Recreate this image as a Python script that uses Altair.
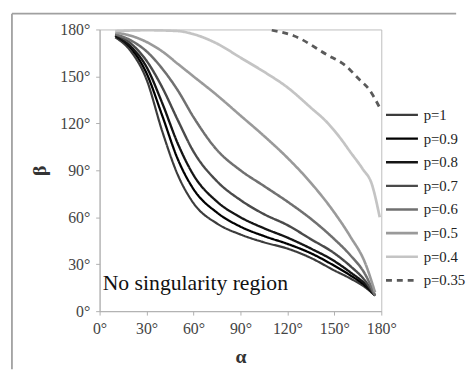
import altair as alt
import pandas as pd

# ---- data (alpha in degrees, beta in degrees) ----
alpha_main = [10, 20, 30, 40, 50, 60, 75, 90, 105, 120, 135, 150, 160, 170, 176]
beta_p1 = [175, 166, 148, 115, 87, 69, 56, 49, 44, 40, 34, 26, 21, 15, 10]
beta_p09 = [176, 168, 152, 125, 97, 78, 63, 54, 48, 43, 37, 29, 23, 16, 10]
beta_p08 = [176, 169, 156, 133, 107, 87, 70, 60, 53, 47, 40, 32, 25, 17, 10]
beta_p07 = [177, 171, 160, 143, 122, 102, 83, 71, 62, 55, 46, 37, 29, 19, 10]
beta_p06 = [177, 173, 166, 155, 141, 124, 103, 90, 80, 70, 59, 46, 36, 23, 10]
beta_p05 = [178, 176, 172, 166, 158, 150, 138, 125, 112, 98, 82, 63, 48, 30, 12]

alpha_p04 = [10, 30, 50, 60, 75, 90, 105, 120, 135, 145, 155, 160, 168, 174, 179]
beta_p04 = [179, 179.5, 179, 177, 171, 162, 153, 143, 130, 121, 109, 102, 91, 81, 60]

alpha_p035 = [110, 124, 145, 157, 166, 172, 179]
beta_p035 = [179.5, 176, 164, 157, 148, 142, 130]

labels = ["p=1", "p=0.9", "p=0.8", "p=0.7", "p=0.6", "p=0.5", "p=0.4", "p=0.35"]
colors = ["#3c3c3c", "#000000", "#151515", "#4a4a4a", "#707070", "#9a9a9a", "#c4c4c4", "#5a5a5a"]
dashes = [[1, 0]] * 7 + [[6, 5]]
widths = [2.2, 2.8, 2.2, 2.2, 2.2, 2.2, 2.2, 1.6]

series = [
    ("p=1", alpha_main, beta_p1),
    ("p=0.9", alpha_main, beta_p09),
    ("p=0.8", alpha_main, beta_p08),
    ("p=0.7", alpha_main, beta_p07),
    ("p=0.6", alpha_main, beta_p06),
    ("p=0.5", alpha_main, beta_p05),
    ("p=0.4", alpha_p04, beta_p04),
    ("p=0.35", alpha_p035, beta_p035),
]
rows = []
for name, xs, ys in series:
    for i, (a, b) in enumerate(zip(xs, ys)):
        rows.append({"p": name, "alpha": a, "beta": b, "order": i})
df = pd.DataFrame(rows)

note = pd.DataFrame({"alpha": [2], "beta": [18], "text": ["No singularity region"]})

serif = "Liberation Serif, Times New Roman, DejaVu Serif, serif"
ticks = [0, 30, 60, 90, 120, 150, 180]

x = alt.X("alpha:Q", scale=alt.Scale(domain=[0, 180], nice=False),
          axis=alt.Axis(values=ticks, labelExpr="datum.value + '°'", title="α"))
y = alt.Y("beta:Q", scale=alt.Scale(domain=[0, 180], nice=False),
          axis=alt.Axis(values=ticks, labelExpr="datum.value + '°'", title="β"))

lines = alt.Chart(df).mark_line(interpolate="monotone").encode(
    x=x,
    y=y,
    order="order:Q",
    color=alt.Color("p:N", scale=alt.Scale(domain=labels, range=colors),
                    sort=labels, legend=alt.Legend(title=None)),
    strokeDash=alt.StrokeDash("p:N", scale=alt.Scale(domain=labels, range=dashes),
                              sort=labels, legend=alt.Legend(title=None)),
    strokeWidth=alt.StrokeWidth("p:N", scale=alt.Scale(domain=labels, range=widths),
                                sort=labels, legend=alt.Legend(title=None)),
)

text = alt.Chart(note).mark_text(align="left", baseline="middle", font=serif,
                                 fontSize=22, color="#111").encode(
    x="alpha:Q", y="beta:Q", text="text:N")

# decorative figure frame (left and top edges visible in the reference)
frame_src = pd.DataFrame({"k": [0]})
frame_v = alt.Chart(frame_src).mark_rule(color="#a0a0a0", strokeWidth=1.8).encode(
    x=alt.value(-89), y=alt.value(-16), y2=alt.value(345))
frame_h = alt.Chart(frame_src).mark_rule(color="#a0a0a0", strokeWidth=1.8).encode(
    x=alt.value(-89), x2=alt.value(362), y=alt.value(-16))

chart = alt.layer(frame_v, frame_h, lines, text).properties(
    width=286, height=286,
    padding={"left": 3, "top": 2, "right": 0, "bottom": 0},
).configure_view(
    stroke="#bdbdbd", strokeWidth=1
).configure_axis(
    grid=False,
    domainColor="#b0b0b0",
    tickColor="#b0b0b0",
    tickSize=4,
    labelFont=serif,
    labelFontSize=16,
    labelColor="#444",
    labelFlush=False,
    titleFont=serif,
    titleFontSize=20,
    titleFontWeight="bold",
    titleColor="#333",
).configure_axisY(
    titleAngle=-90, titlePadding=11, labelPadding=6
).configure_axisX(
    titlePadding=10, labelPadding=6
).configure_legend(
    orient="none",
    legendX=289,
    legendY=75,
    symbolType="stroke",
    symbolSize=1050,
    clipHeight=23.6,
    rowPadding=0,
    labelFont=serif,
    labelFontSize=15,
    labelColor="#222",
    labelOffset=4,
    padding=0,
)

chart.save("out.html", embed_options={"renderer": "svg", "actions": False})
